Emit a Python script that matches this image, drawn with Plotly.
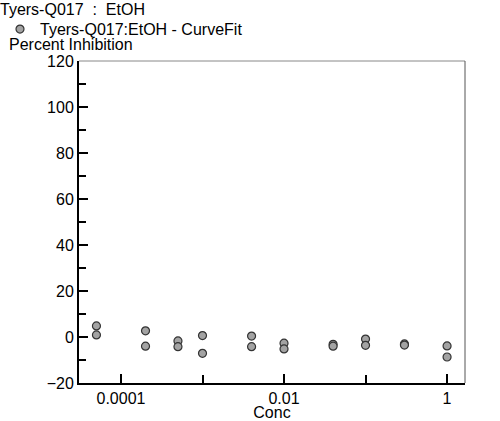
import plotly.graph_objects as go

# concentrations (two replicates each) and percent inhibition
conc = [0.00005, 0.00005, 0.0002, 0.0002, 0.0005, 0.0005, 0.001, 0.001,
        0.004, 0.004, 0.01, 0.01, 0.04, 0.04, 0.1, 0.1, 0.3, 0.3, 1, 1]
inhibition = [4.8, 0.9, 2.7, -4.0, -1.7, -4.2, 0.6, -7.1,
              0.4, -4.2, -2.7, -5.2, -3.2, -4.0, -0.9, -3.6, -3.0, -3.5, -3.9, -8.7]

x_ticks = [0.0001, 0.01, 1]
x_tick_text = ["0.0001", "0.01", "1"]

FONT = "Liberation Sans, Arial, sans-serif"
NB = "\u00a0"

fig = go.Figure()
fig.add_trace(go.Scatter(
    x=conc, y=inhibition, mode="markers", name="Tyers-Q017:EtOH - CurveFit",
    marker=dict(size=8, color="#a3a3a3", line=dict(color="#333333", width=1.2)),
))

fig.update_layout(
    width=500, height=421,
    margin=dict(l=79, r=35, t=61, b=38, autoexpand=False),
    plot_bgcolor="white", paper_bgcolor="white",
    font=dict(family=FONT, size=16, color="black"),
    title=dict(text=f"Tyers-Q017{NB}{NB}:{NB}{NB}EtOH", x=0.0, xref="container",
               xanchor="left", y=0.992, yref="container", yanchor="top",
               pad=dict(l=0, t=0), font=dict(size=16, family=FONT, color="black")),
    showlegend=True,
    legend=dict(xref="container", yref="container", x=0.0, y=0.971,
                xanchor="left", yanchor="top", bgcolor="rgba(0,0,0,0)",
                font=dict(size=16, family=FONT)),
    xaxis=dict(
        type="log", range=[-4.515, 0.22],
        tickvals=x_ticks, ticktext=x_tick_text,
        ticks="inside", ticklen=9, tickwidth=1.5, tickcolor="black",
        minor=dict(tickvals=[0.001, 0.1], ticks="inside", ticklen=8,
                   tickwidth=1.5, tickcolor="black"),
        showline=True, linecolor="black", linewidth=2,
        showgrid=False, zeroline=False,
        title=dict(text="Conc", standoff=3, font=dict(size=16)),
    ),
    yaxis=dict(
        range=[-20, 120], dtick=20,
        ticks="inside", ticklen=9, tickwidth=1.5, tickcolor="black",
        minor=dict(dtick=10, ticks="inside", ticklen=7, tickwidth=1.5,
                   tickcolor="black"),
        showline=True, linecolor="black", linewidth=2,
        showgrid=False, zeroline=False,
    ),
    annotations=[dict(text="Percent Inhibition", xref="paper", yref="paper",
                      x=-72 / 386, y=1.0, xanchor="left", yanchor="bottom",
                      yshift=6, showarrow=False, font=dict(size=16))],
    shapes=[
        dict(type="line", xref="paper", yref="paper", x0=0, x1=1, y0=1, y1=1,
             line=dict(color="#888888", width=1)),
        dict(type="line", xref="paper", yref="paper", x0=1, x1=1, y0=0, y1=1,
             line=dict(color="#555555", width=1)),
    ],
)

fig.write_html("out.html", config={"displayModeBar": False},
               post_script="document.body.style.margin='0';")
